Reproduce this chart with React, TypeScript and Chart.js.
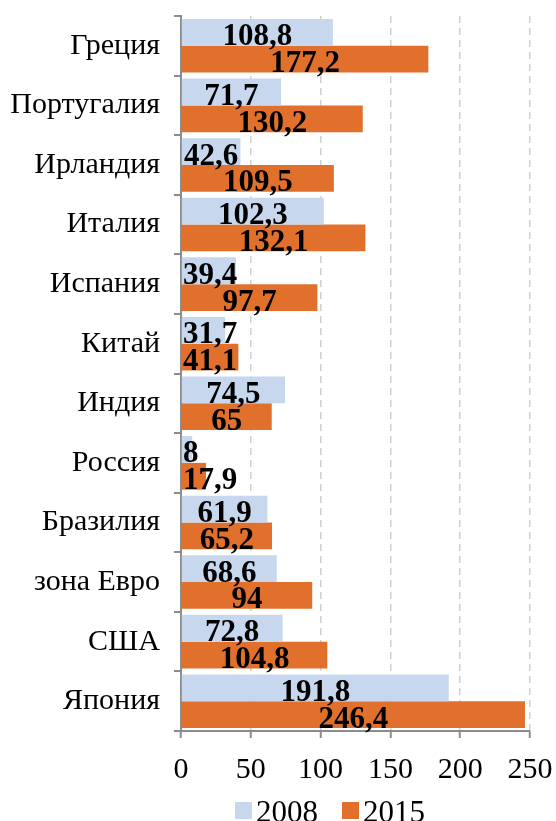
import React, { useEffect, useRef } from "react";
import { Chart, registerables } from "chart.js";

Chart.register(...registerables);

const categories = [
  "Греция",
  "Португалия",
  "Ирландия",
  "Италия",
  "Испания",
  "Китай",
  "Индия",
  "Россия",
  "Бразилия",
  "зона Евро",
  "США",
  "Япония",
];
const values2008 = [108.8, 71.7, 42.6, 102.3, 39.4, 31.7, 74.5, 8, 61.9, 68.6, 72.8, 191.8];
const values2015 = [177.2, 130.2, 109.5, 132.1, 97.7, 41.1, 65, 17.9, 65.2, 94, 104.8, 246.4];
const seriesNames = ["2008", "2015"];
const seriesColors = ["#c6d7ee", "#e0702c"];
const xMin = 0;
const xMax = 250;
const xStep = 50;

const FONT = "'Liberation Serif', 'Times New Roman', serif";

const fmt = (v: number) => String(v).replace(".", ",");

const dataLabelPlugin = {
  id: "dataLabels",
  afterDatasetsDraw(chart: any) {
    const ctx = chart.ctx;
    const left = chart.chartArea.left;
    ctx.save();
    ctx.font = `bold 31px ${FONT}`;
    ctx.fillStyle = "#000";
    ctx.textAlign = "center";
    ctx.textBaseline = "alphabetic";
    chart.data.datasets.forEach((ds: any, di: number) => {
      const meta = chart.getDatasetMeta(di);
      meta.data.forEach((el: any, i: number) => {
        const txt = fmt(ds.data[i]);
        const w = ctx.measureText(txt).width;
        const cx = Math.max((el.x + el.base) / 2, left + w / 2 + 2);
        ctx.fillText(txt, cx, el.y + 13);
      });
    });
    ctx.restore();
  },
};

const legendPlugin = {
  id: "customLegend",
  afterDraw(chart: any) {
    const ctx = chart.ctx;
    ctx.save();
    ctx.font = `31px ${FONT}`;
    ctx.textBaseline = "alphabetic";
    ctx.textAlign = "left";
    const box = 17;
    const gapBoxText = 4;
    const gapItems = 24;
    const items = chart.data.datasets.map((ds: any) => ({
      label: ds.label,
      color: ds.backgroundColor,
      w: ctx.measureText(ds.label).width,
    }));
    const total =
      items.reduce((s: number, it: any) => s + box + gapBoxText + it.w, 0) + gapItems * (items.length - 1);
    let x = 330 - total / 2;
    const baseY = chart.height + 1;
    items.forEach((it: any) => {
      ctx.fillStyle = it.color;
      ctx.fillRect(x, 802, box, box);
      x += box + gapBoxText;
      ctx.fillStyle = "#000";
      ctx.fillText(it.label, x, baseY);
      x += it.w + gapItems;
    });
    ctx.restore();
  },
};

export default function App() {
  const ref = useRef<HTMLCanvasElement | null>(null);
  useEffect(() => {
    document.body.style.margin = "0";
    const canvas = ref.current!;
    const chart = new Chart(canvas, {
      type: "bar",
      data: {
        labels: categories,
        datasets: [
          { label: seriesNames[0], data: values2008, backgroundColor: seriesColors[0] },
          { label: seriesNames[1], data: values2015, backgroundColor: seriesColors[1] },
        ],
      },
      options: {
        indexAxis: "y",
        responsive: false,
        animation: false,
        layout: { padding: { top: 16, right: 26, bottom: 35, left: 0 } },
        datasets: { bar: { categoryPercentage: 0.9, barPercentage: 1 } },
        plugins: {
          legend: { display: false },
          tooltip: { enabled: false },
        },
        scales: {
          y: {
            type: "category",
            offset: true,
            grid: {
              offset: true,
              drawOnChartArea: false,
              drawTicks: true,
              tickLength: 7,
              color: "#8c8c8c",
              lineWidth: 2,
            },
            border: { display: true, color: "#8c8c8c", width: 2 },
            ticks: { font: { family: FONT, size: 30 }, color: "#000", padding: 14 },
            afterFit: (s: any) => {
              s.width = 181;
              s.paddingTop = 0;
              s.paddingBottom = 0;
            },
          },
          x: {
            type: "linear",
            min: xMin,
            max: xMax,
            ticks: { stepSize: xStep, font: { family: FONT, size: 30 }, color: "#000", padding: 14 },
            grid: {
              color: (c: any) => (c.tick && c.tick.value === 0 ? "rgba(0,0,0,0)" : "#d0d0d0"),
              lineWidth: 1.5,
              tickColor: "#8c8c8c",
              tickWidth: 2,
              tickLength: 7,
              tickBorderDash: [],
            },
            border: { display: true, color: "#8c8c8c", width: 2, dash: [7, 5] },
            afterFit: (s: any) => {
              s.height = 55;
              s.paddingLeft = 0;
              s.paddingRight = 0;
            },
          },
        },
      },
      plugins: [dataLabelPlugin, legendPlugin],
    });
    return () => chart.destroy();
  }, []);
  return <canvas ref={ref} width={556} height={821} style={{ display: "block" }} />;
}
